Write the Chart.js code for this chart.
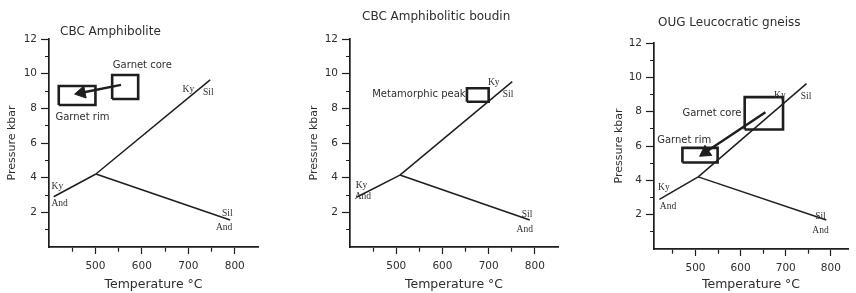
<!DOCTYPE html>
<html>
<head>
<meta charset="utf-8">
<script src="https://cdn.jsdelivr.net/npm/chart.js@4.4.1/dist/chart.umd.min.js"></script>
<style>
  html, body { margin: 0; padding: 0; background: #fff; }
  #wrap { position: relative; width: 856px; height: 293px; overflow: hidden; }
  .panel { position: absolute; top: 0; height: 293px; }
</style>
</head>
<body>
<div id="wrap">
  <div class="panel" style="left:0;width:290px"><canvas id="c0"></canvas></div>
  <div class="panel" style="left:290px;width:280px"><canvas id="c1"></canvas></div>
  <div class="panel" style="left:570px;width:286px"><canvas id="c2"></canvas></div>
</div>
<script>
const titles = ['CBC Amphibolite', 'CBC Amphibolitic boudin', 'OUG Leucocratic gneiss'];
const tempTicks = [450, 500, 550, 600, 650, 700, 750, 800];
const pressTicks = [1, 2, 3, 4, 5, 6, 7, 8, 9, 10, 11, 12];
const tempRange = [[400, 850], [400, 850], [408, 838]];

// Al2SiO5 reaction lines, [T degC, P kbar]
const kyAnd = [
  [[410, 2.9], [501, 4.21]],
  [[414, 2.87], [508, 4.15]],
  [[420, 2.89], [506, 4.2]]
];
const kySil = [
  [[501, 4.21], [747, 9.64]],
  [[508, 4.15], [751, 9.54]],
  [[506, 4.2], [746, 9.63]]
];
const silAnd = [
  [[501, 4.21], [790, 1.56]],
  [[508, 4.15], [789, 1.56]],
  [[506, 4.2], [790, 1.69]]
];

// P-T boxes [Tmin, Tmax, Pmin, Pmax]
const boxes = [
  [[536, 592, 8.54, 9.92], [421, 500, 8.19, 9.29]],
  [[653, 700, 8.38, 9.16]],
  [[609, 694, 6.96, 8.85], [471, 549, 5.04, 5.89]]
];

// core -> rim arrows
const arrows = [
  [[555, 9.35], [470, 8.9]],
  null,
  [[655, 7.97], [522, 5.63]]
];

// labels [T, P, text, serif?, align]
const notes = [
  [[700, 9.1, 'Ky', 1], [743, 8.9, 'Sil', 1], [418, 3.5, 'Ky', 1], [423, 2.5, 'And', 1],
   [784, 1.95, 'Sil', 1], [777, 1.1, 'And', 1],
   [601, 10.45, 'Garnet core', 0, 'center'], [472, 7.5, 'Garnet rim', 0, 'center']],
  [[711, 9.5, 'Ky', 1], [742, 8.8, 'Sil', 1], [425, 3.56, 'Ky', 1], [428, 2.9, 'And', 1],
   [783, 1.85, 'Sil', 1], [778, 1.02, 'And', 1],
   [650, 8.83, 'Metamorphic peak', 0, 'right']],
  [[687, 8.95, 'Ky', 1], [745, 8.86, 'Sil', 1], [430, 3.57, 'Ky', 1], [439, 2.46, 'And', 1],
   [777, 1.92, 'Sil', 1], [777, 1.1, 'And', 1],
   [602, 7.89, 'Garnet core', 0, 'right'], [415, 6.34, 'Garnet rim', 0, 'left']]
];

const geo = [
  {left: 49, right: 32, top: 39, bottom: 46, ytPad: 6, tx: 60, ty: 32},
  {left: 60, right: 12, top: 39, bottom: 46, ytPad: 18, tx: 72, ty: 16.5},
  {left: 84, right: 0, top: 43, bottom: 44, ytPad: 43, tx: 88, ty: 23}
];

const INK = '#1e1e1e';
const TXT = '#2e2e2e';

const pts = arr => arr.map(p => ({x: p[0], y: p[1]}));
const boxPts = b => pts([[b[0], b[2]], [b[1], b[2]], [b[1], b[3]], [b[0], b[3]], [b[0], b[2]]]);

const notesPlugin = {
  id: 'notes',
  afterDatasetsDraw(chart, args, opts) {
    const {ctx, scales: {x, y}} = chart;
    ctx.save();
    ctx.fillStyle = TXT;
    ctx.textBaseline = 'middle';
    opts.items.forEach(n => {
      ctx.font = n[3] ? '9.5px "Liberation Serif"' : '10px "DejaVu Sans"';
      ctx.textAlign = n[4] || 'center';
      ctx.fillText(n[2], x.getPixelForValue(n[0]), y.getPixelForValue(n[1]));
    });
    ctx.font = '12px "DejaVu Sans"';
    ctx.textAlign = 'left';
    ctx.fillText(opts.title, opts.tx, opts.ty);
    ctx.restore();
  }
};

function arrowAngle(c) {
  const d = c.dataset.data, xs = c.chart.scales.x, ys = c.chart.scales.y;
  const dx = xs.getPixelForValue(d[1].x) - xs.getPixelForValue(d[0].x);
  const dy = ys.getPixelForValue(d[1].y) - ys.getPixelForValue(d[0].y);
  return Math.atan2(dx, -dy) * 180 / Math.PI;
}

function renderPanel(i) {
  const g = geo[i];
  const line = (data, w) => ({data: pts(data), showLine: true, borderColor: INK, borderWidth: w, pointRadius: 0, tension: 0});
  const datasets = [line(kyAnd[i], 1.5), line(kySil[i], 1.5), line(silAnd[i], 1.5)];
  boxes[i].forEach(b => datasets.push({data: boxPts(b), showLine: true, borderColor: INK, borderWidth: 2.6, pointRadius: 0, tension: 0}));
  if (arrows[i]) {
    datasets.push({
      data: pts(arrows[i]), showLine: true, borderColor: INK, borderWidth: 2.4,
      pointStyle: 'triangle', pointRadius: c => c.dataIndex === 1 ? 7 : 0,
      pointBackgroundColor: INK, pointBorderColor: INK, pointBorderWidth: 1,
      pointRotation: arrowAngle
    });
  }

  new Chart(document.getElementById('c' + i), {
    type: 'scatter',
    data: {datasets},
    options: {
      responsive: true,
      maintainAspectRatio: false,
      animation: false,
      events: [],
      layout: {padding: {left: 0, right: g.right, top: g.top, bottom: 0}},
      plugins: {
        legend: {display: false},
        tooltip: {enabled: false},
        notes: {items: notes[i], title: titles[i], tx: g.tx, ty: g.ty}
      },
      scales: {
        x: {
          type: 'linear', min: tempRange[i][0], max: tempRange[i][1],
          afterBuildTicks: s => { s.ticks = tempTicks.map(v => ({value: v})); },
          afterFit: s => { s.height = g.bottom; },
          border: {color: INK, width: 1.7},
          grid: {
            drawOnChartArea: false, tickLength: 7, tickColor: INK, tickWidth: 1.2,
            tickBorderDash: c => c.tick && c.tick.value % 100 ? [4, 40] : []
          },
          ticks: {
            autoSkip: false, maxRotation: 0, padding: 6, color: TXT,
            font: {family: 'DejaVu Sans', size: 10.5},
            callback: v => v % 100 ? '' : String(v)
          },
          title: {display: true, text: 'Temperature °C', color: TXT,
                  font: {family: 'DejaVu Sans', size: 12.5}, padding: {top: 0, bottom: 1}}
        },
        y: {
          type: 'linear', min: 0, max: 12,
          afterBuildTicks: s => { s.ticks = pressTicks.map(v => ({value: v})); },
          afterFit: s => { s.width = g.left; },
          border: {color: INK, width: 1.7},
          grid: {
            drawOnChartArea: false, tickLength: 8, tickColor: INK, tickWidth: 1.2,
            tickBorderDash: c => c.tick && c.tick.value % 2 ? [0, 4, 4, 40] : []
          },
          ticks: {
            autoSkip: false, padding: 4, color: TXT,
            font: {family: 'DejaVu Sans', size: 10.5},
            callback: v => v % 2 ? '' : String(v)
          },
          title: {display: true, text: 'Pressure kbar', color: TXT,
                  font: {family: 'DejaVu Sans', size: 11}, padding: {top: g.ytPad, bottom: 0}}
        }
      }
    },
    plugins: [notesPlugin]
  });
}

[0, 1, 2].forEach(renderPanel);
</script>
</body>
</html>
